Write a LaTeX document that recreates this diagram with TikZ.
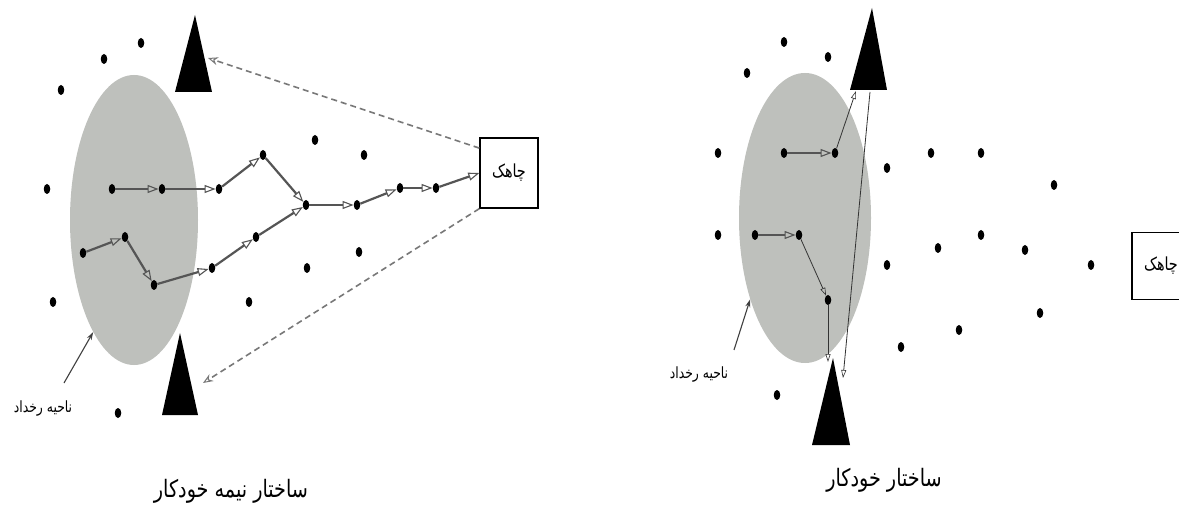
\documentclass[tikz,border=0pt]{standalone}
\usepackage{fontspec}
\usetikzlibrary{arrows.meta,shapes.geometric}
\TeXXeTstate=1
\newfontfamily\fa[Script=Arabic,FakeStretch=0.8]{DejaVu Sans}
\definecolor{regiongray}{RGB}{190,192,188}
\definecolor{pathgray}{RGB}{85,85,85}
\definecolor{dashgray}{RGB}{120,120,120}
\tikzset{
  sensor/.style={ellipse, fill=black, minimum width=6.5pt, minimum height=10pt, inner sep=0pt},
  region/.style={ellipse, fill=regiongray, inner sep=0pt},
  sinkbox/.style={draw=black, line width=1.3pt, fill=white, inner sep=0pt},
  hop/.style={draw=pathgray, line width=2.2pt,
    -{Triangle[open, length=11pt, width=8pt, line width=1.1pt]}},
  thinhop/.style={draw=black!80, line width=0.8pt,
    -{Triangle[open, length=8pt, width=5pt, line width=0.6pt]}},
  report/.style={draw=dashgray, line width=1.6pt, dash pattern=on 6pt off 4pt,
    -{Stealth[open, length=10pt, width=8pt, line width=1pt]}},
  pointer/.style={draw=black!75, line width=1.1pt, -{Stealth[length=8pt, width=5pt]}},
  actor/.style={fill=black},
  caption/.style={font=\fa\fontsize{24}{28}\selectfont, inner sep=0pt},
  tag/.style={font=\fa\fontsize{15.5}{18}\selectfont, inner sep=0pt},
  sinktext/.style={font=\fa\fontsize{18}{20}\selectfont}
}
\begin{document}
\begin{tikzpicture}[x=1pt, y=-1pt]
\useasboundingbox (0,0) rectangle (1179,513);
\fill[white] (0,0) rectangle (1179,513);
\begin{scope}
\clip (0,0) rectangle (1179,513);

% ---------- semi-autonomous structure ----------
\node[region, minimum width=128pt, minimum height=290pt] (evL) at (134,220) {};
\fill[actor] (195,15) -- (212,92) -- (175,92) -- cycle;
\fill[actor] (180,333) -- (198,415) -- (162,415) -- cycle;
\coordinate (ltA) at (208,58);
\coordinate (lbA) at (203,383);

\node[sinkbox, sinktext, minimum width=58pt, minimum height=70pt] (sinkL) at (509,173)
  {\beginR چاهک\endR};

\foreach \n/\x/\y in {L1/141/43, L2/104/59, L3/61/90, L4/47/189, L5/112/189,
    L6/162/189, L7/219/189, L8/263/155, L9/306/205, L10/315/140, L11/364/155,
    L12/357/205, L13/400/188, L14/436/188, L15/83/253, L16/125/237, L17/154/285,
    L18/212/268, L19/256/237, L20/307/268, L21/359/252, L22/53/302, L23/249/302,
    L24/118/413}
  \node[sensor] (\n) at (\x,\y) {};

\draw[hop] (L5) -- (L6);
\draw[hop] (L6) -- (L7);
\draw[hop] (L7) -- (L8);
\draw[hop] (L8) -- (L9);
\draw[hop] (L9) -- (L12);
\draw[hop] (L12) -- (L13);
\draw[hop] (L13) -- (L14);
\draw[hop] (L14) -- (sinkL.west);
\draw[hop] (L15) -- (L16);
\draw[hop] (L16) -- (L17);
\draw[hop] (L17) -- (L18);
\draw[hop] (L18) -- (L19);
\draw[hop] (L19) -- (L9);

\draw[report] (sinkL.140) -- (ltA);
\draw[report] (sinkL.south west) -- (lbA);

\node[tag] (tagL) at (43,409) {\beginR ناحیه رخداد\endR};
\draw[pointer] (64,383) -- (evL.250);
\node[caption] (capL) at (231,491) {\beginR ساختار نیمه خودکار\endR};

% ---------- autonomous structure ----------
\node[region, minimum width=132pt, minimum height=290pt] (evR) at (805,218) {};
\fill[actor] (872,8) -- (887,90) -- (850,90) -- cycle;
\fill[actor] (833,358) -- (850,445) -- (812,445) -- cycle;
\coordinate (rtA) at (856,91);
\coordinate (rtB) at (870,92);
\coordinate (rbA) at (828,362);
\coordinate (rbB) at (843,378);

\node[sinkbox, sinktext, minimum width=58pt, minimum height=67pt] (sinkR) at (1161,266)
  {\beginR چاهک\endR};

\foreach \n/\x/\y in {R1/784/42, R2/828/57, R3/747/73, R4/718/153, R5/784/153,
    R6/835/153, R7/887/168, R8/931/153, R9/981/153, R10/1054/185, R11/718/235,
    R12/755/235, R13/799/235, R14/887/265, R15/938/248, R16/981/235,
    R17/1025/250, R18/1091/265, R19/1040/313, R20/959/330, R21/901/347,
    R22/828/300, R23/777/395}
  \node[sensor] (\n) at (\x,\y) {};

\draw[hop] (R5) -- (R6);
\draw[hop] (R12) -- (R13);
\draw[thinhop] (R6) -- (rtA);
\draw[thinhop] (R13) -- (R22);
\draw[thinhop] (R22) -- (rbA);
\draw[thinhop, {Triangle[open, length=8pt, width=5pt, line width=0.6pt]}-] (rbB) -- (rtB);

\node[tag] (tagR) at (699,375) {\beginR ناحیه رخداد\endR};
\draw[pointer] (734,350) -- (evR.236);
\node[caption] (capR) at (884,480) {\beginR ساختار خودکار\endR};
\end{scope}
\end{tikzpicture}
\end{document}
